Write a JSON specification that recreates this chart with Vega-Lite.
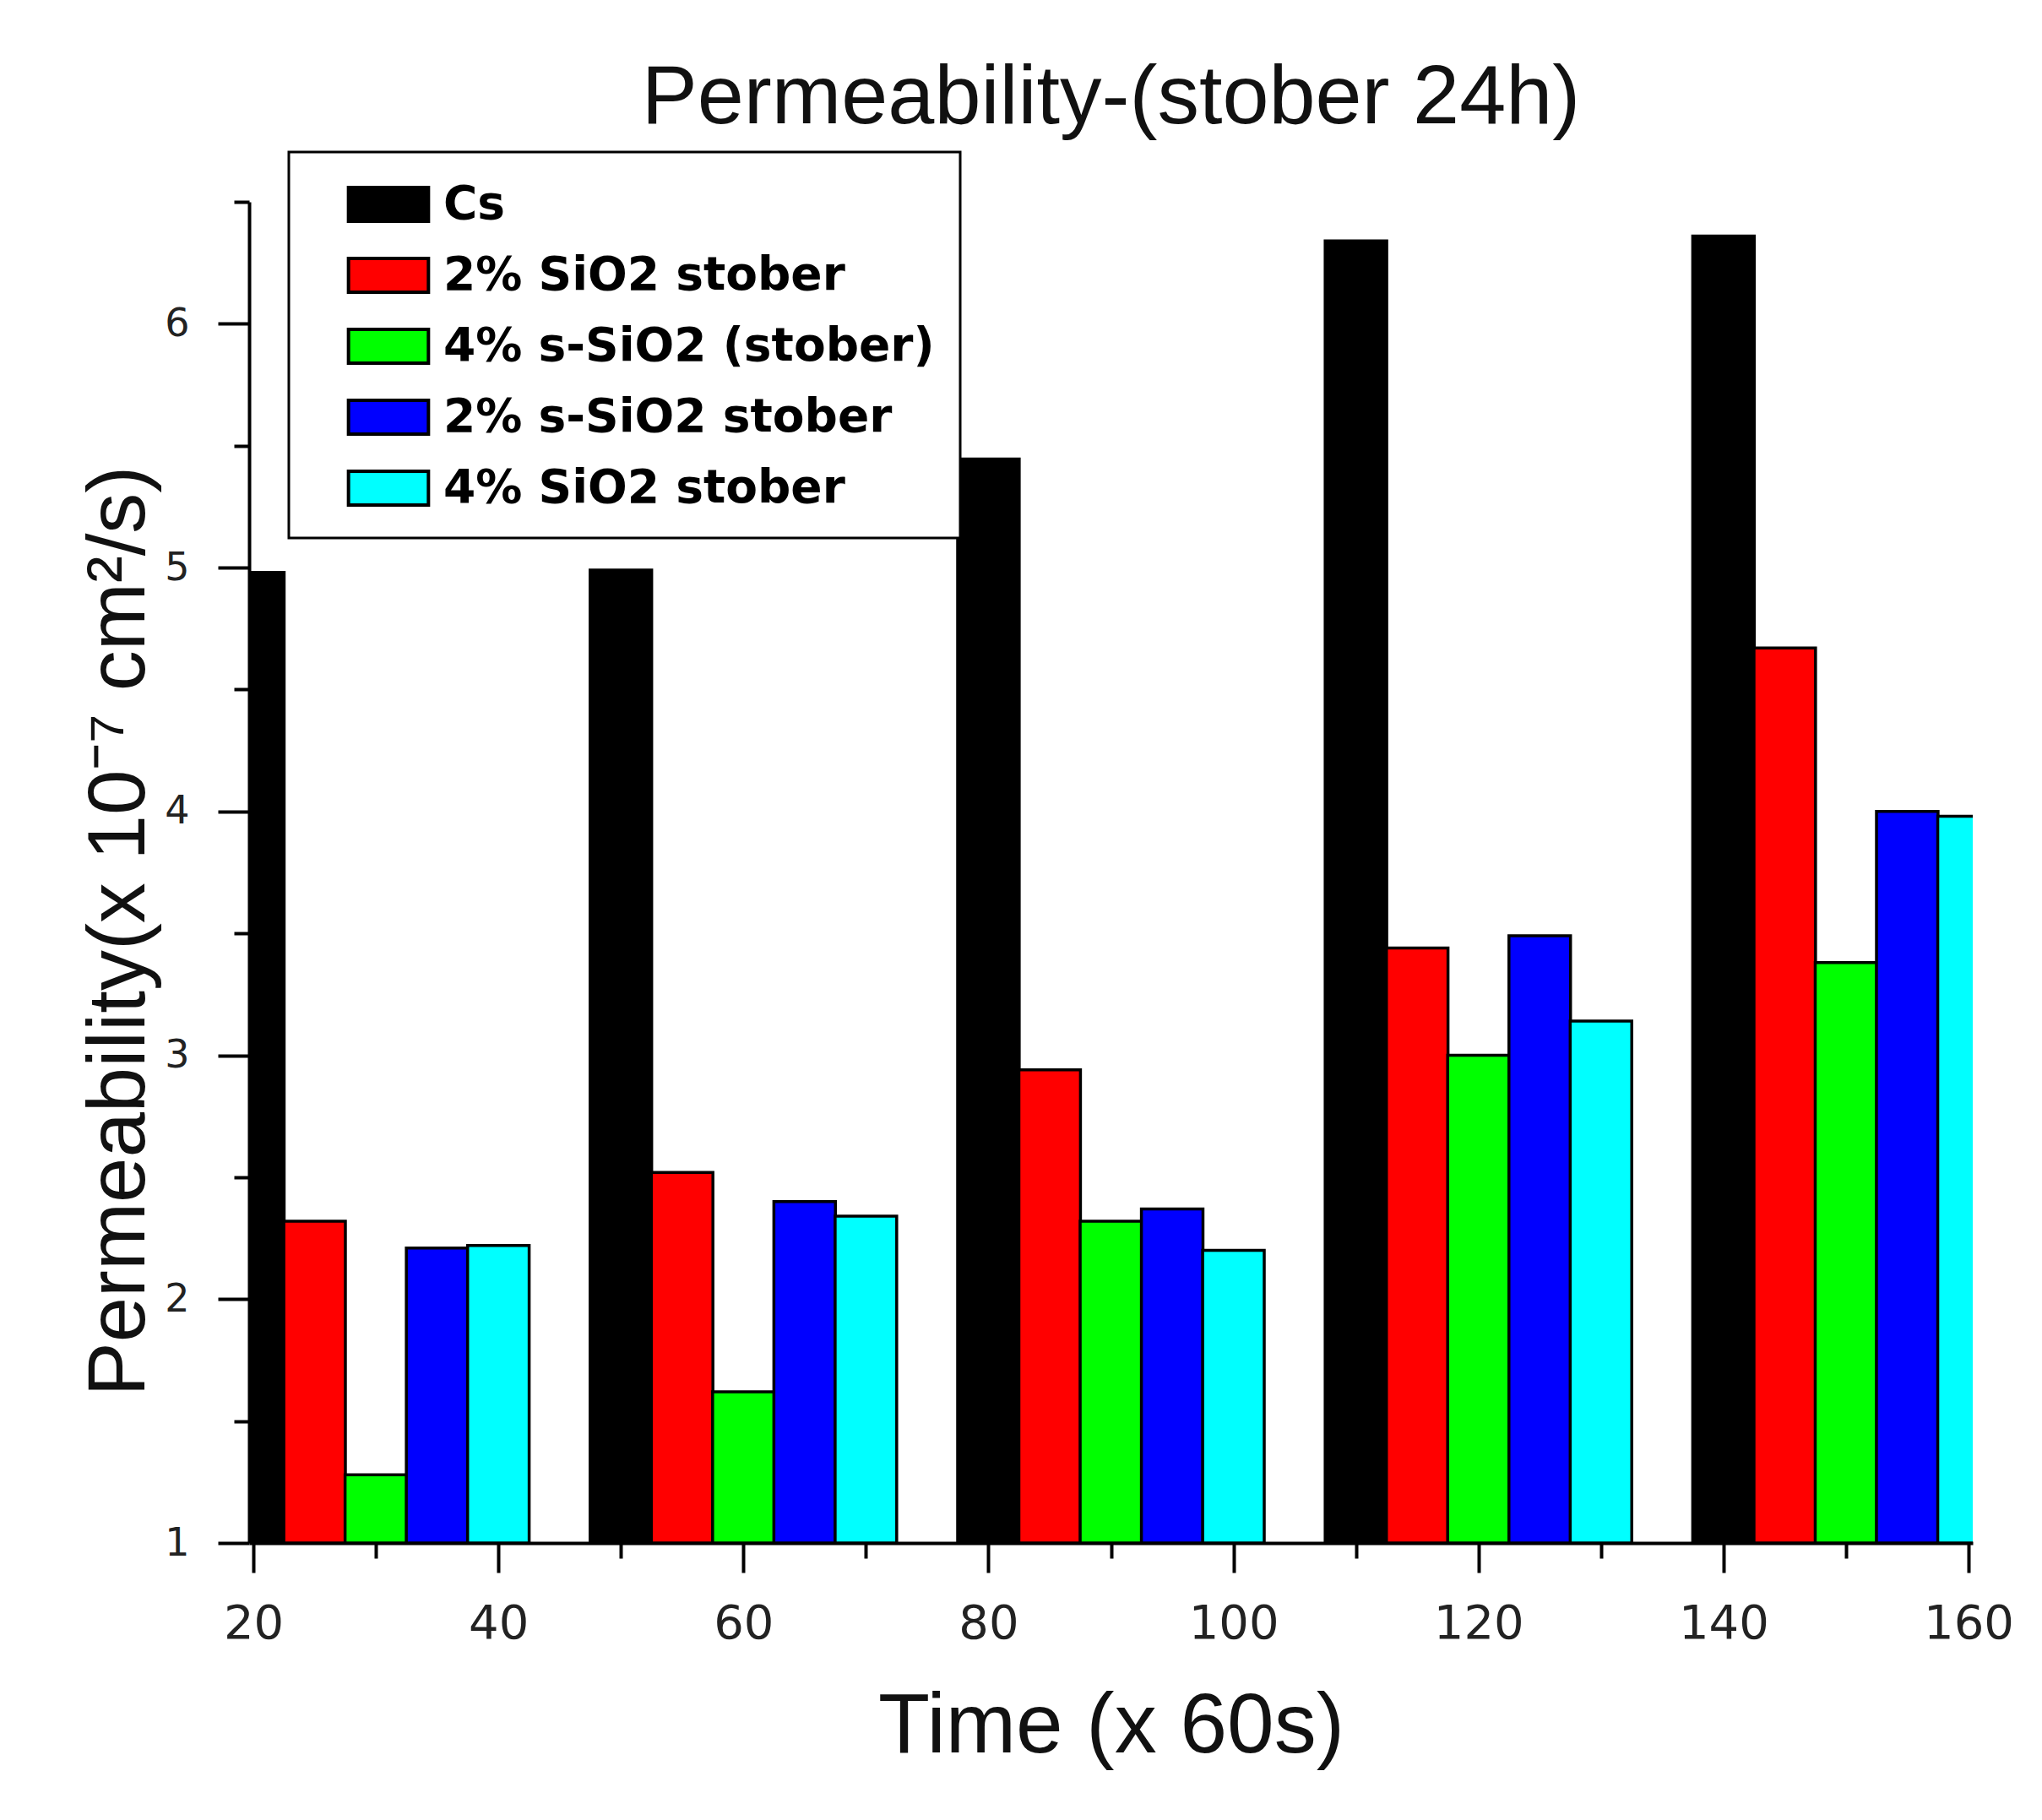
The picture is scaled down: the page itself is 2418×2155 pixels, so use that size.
{
  "$schema": "https://vega.github.io/schema/vega-lite/v6.json",
  "width": 2041,
  "height": 1588,
  "autosize": "none",
  "padding": {"left": 295, "top": 239, "right": 82, "bottom": 328},
  "background": "white",
  "title": {
    "text": "Permeability-(stober 24h)",
    "font": "Liberation Sans",
    "fontSize": 99,
    "fontWeight": "normal",
    "color": "#111111",
    "anchor": "middle",
    "frame": "group",
    "baseline": "alphabetic",
    "offset": -66
  },
  "data": {
    "values": [
      {"time": 20, "sample": "Cs", "permeability": 4.98},
      {"time": 25, "sample": "2% SiO2 stober", "permeability": 2.32},
      {"time": 30, "sample": "4% s-SiO2 (stober)", "permeability": 1.28},
      {"time": 35, "sample": "2% s-SiO2 stober", "permeability": 2.21},
      {"time": 40, "sample": "4% SiO2 stober", "permeability": 2.22},
      {"time": 50, "sample": "Cs", "permeability": 4.99},
      {"time": 55, "sample": "2% SiO2 stober", "permeability": 2.52},
      {"time": 60, "sample": "4% s-SiO2 (stober)", "permeability": 1.62},
      {"time": 65, "sample": "2% s-SiO2 stober", "permeability": 2.40},
      {"time": 70, "sample": "4% SiO2 stober", "permeability": 2.34},
      {"time": 80, "sample": "Cs", "permeability": 5.445},
      {"time": 85, "sample": "2% SiO2 stober", "permeability": 2.94},
      {"time": 90, "sample": "4% s-SiO2 (stober)", "permeability": 2.32},
      {"time": 95, "sample": "2% s-SiO2 stober", "permeability": 2.37},
      {"time": 100, "sample": "4% SiO2 stober", "permeability": 2.20},
      {"time": 110, "sample": "Cs", "permeability": 6.34},
      {"time": 115, "sample": "2% SiO2 stober", "permeability": 3.44},
      {"time": 120, "sample": "4% s-SiO2 (stober)", "permeability": 3.00},
      {"time": 125, "sample": "2% s-SiO2 stober", "permeability": 3.49},
      {"time": 130, "sample": "4% SiO2 stober", "permeability": 3.14},
      {"time": 140, "sample": "Cs", "permeability": 6.36},
      {"time": 145, "sample": "2% SiO2 stober", "permeability": 4.67},
      {"time": 150, "sample": "4% s-SiO2 (stober)", "permeability": 3.38},
      {"time": 155, "sample": "2% s-SiO2 stober", "permeability": 4.00},
      {"time": 160, "sample": "4% SiO2 stober", "permeability": 3.98}
    ]
  },
  "mark": {"type": "bar", "width": 72.9, "stroke": "black", "strokeWidth": 3.5, "clip": true},
  "encoding": {
    "x": {
      "field": "time",
      "type": "quantitative",
      "scale": {"domain": [20, 160], "nice": false, "zero": false},
      "axis": {
        "title": "Time (x 60s)",
        "values": [20, 30, 40, 50, 60, 70, 80, 90, 100, 110, 120, 130, 140, 150, 160],
        "labelExpr": "datum.value % 20 === 0 ? datum.label : ''",
        "tickSize": {"condition": {"test": "datum.value % 20 === 0", "value": 35}, "value": 18},
        "tickWidth": 4,
        "tickColor": "black",
        "domainWidth": 4,
        "domainColor": "black",
        "grid": false,
        "labelFont": "DejaVu Sans",
        "labelFontSize": 56,
        "labelColor": "#222222",
        "labelPadding": 33,
        "labelFlush": false,
        "labelOverlap": false,
        "titleFont": "Liberation Sans",
        "titleFontSize": 100,
        "titleFontWeight": "normal",
        "titleColor": "#111111",
        "titleBaseline": "alphabetic",
        "titleY": 247
      }
    },
    "y": {
      "field": "permeability",
      "type": "quantitative",
      "stack": null,
      "scale": {"domain": [1, 6.5], "nice": false, "zero": false},
      "axis": {
        "title": "Permeability(x 10⁻⁷ cm²/s)",
        "values": [1, 1.5, 2, 2.5, 3, 3.5, 4, 4.5, 5, 5.5, 6, 6.5],
        "labelExpr": "datum.value % 1 === 0 ? format(datum.value, 'd') : ''",
        "tickSize": {"condition": {"test": "datum.value % 1 === 0", "value": 37}, "value": 18},
        "tickWidth": 4,
        "tickColor": "black",
        "domainWidth": 4,
        "domainColor": "black",
        "grid": false,
        "labelFont": "DejaVu Sans",
        "labelFontSize": 46,
        "labelColor": "#222222",
        "labelPadding": 34,
        "labelFlush": false,
        "labelOverlap": false,
        "titleFont": "Liberation Sans",
        "titleFontSize": 96,
        "titleFontWeight": "normal",
        "titleColor": "#111111",
        "titleAngle": 270,
        "titleBaseline": "alphabetic",
        "titleAlign": "center",
        "titleX": -125,
        "titleY": 863
      }
    },
    "color": {
      "field": "sample",
      "type": "nominal",
      "scale": {
        "domain": ["Cs", "2% SiO2 stober", "4% s-SiO2 (stober)", "2% s-SiO2 stober", "4% SiO2 stober"],
        "range": ["#000000", "#ff0000", "#00ff00", "#0000ff", "#00ffff"]
      },
      "legend": {
        "title": null,
        "orient": "none",
        "legendX": 47,
        "legendY": -59,
        "strokeColor": "black",
        "fillColor": "white",
        "padding": 30,
        "symbolOffset": 56,
        "symbolType": "M-1.6,-0.68H1.6V0.68H-1.6Z",
        "symbolSize": 3500,
        "symbolStrokeColor": "black",
        "symbolStrokeWidth": 4,
        "symbolOpacity": 1,
        "labelFont": "DejaVu Sans",
        "labelFontWeight": "bold",
        "labelFontSize": 55,
        "labelColor": "black",
        "labelOffset": 33,
        "labelLimit": 1000,
        "rowPadding": 23
      }
    }
  },
  "config": {"view": {"stroke": null}, "legend": {"strokeWidth": 3}}
}
